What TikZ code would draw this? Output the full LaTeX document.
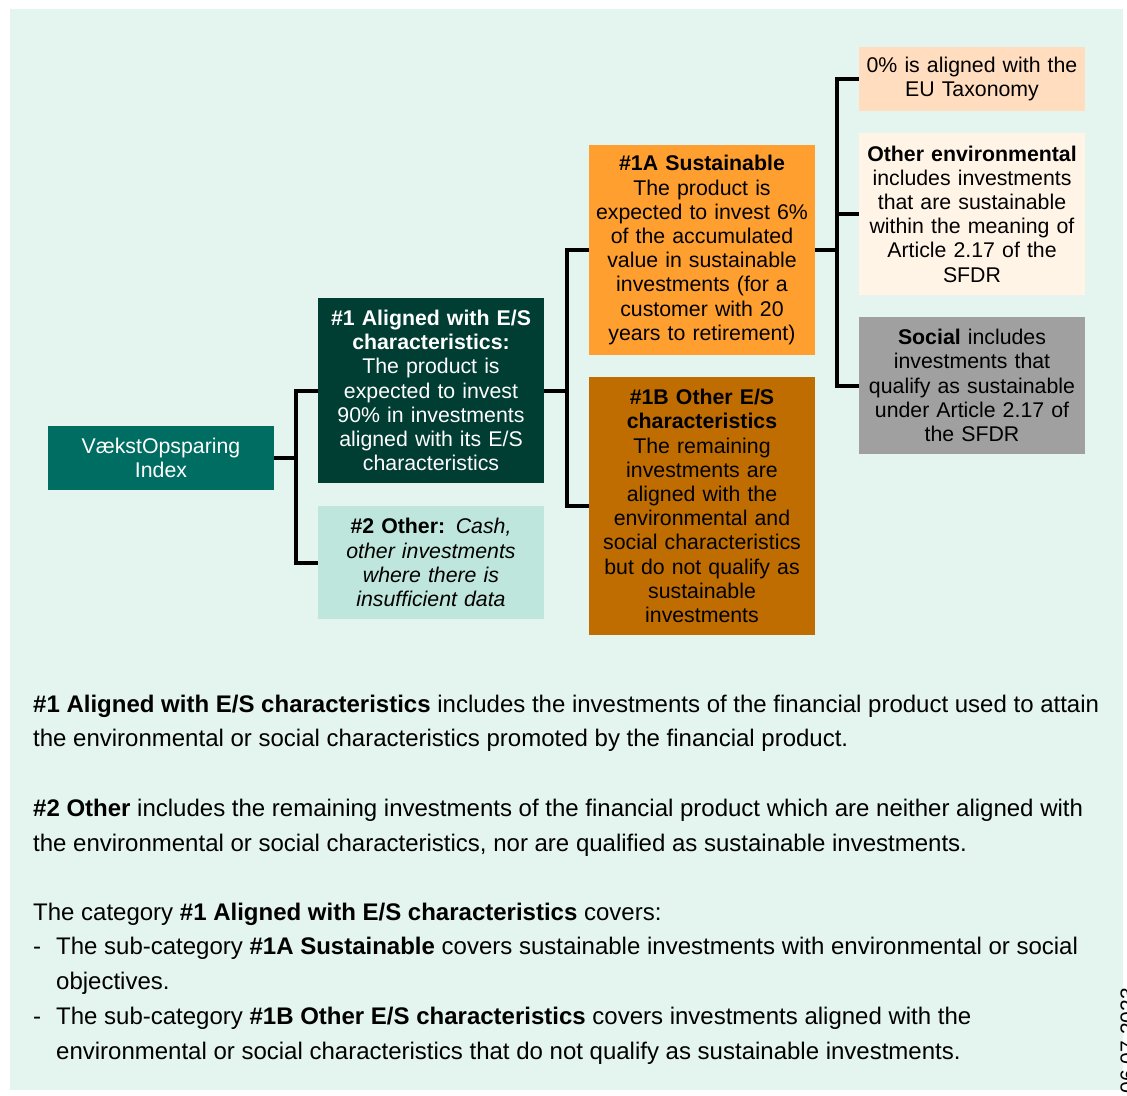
\documentclass[tikz,border=0pt]{standalone}
\usepackage{fontspec}
\setmainfont{Liberation Sans}
\definecolor{bgc}{HTML}{E4F4EE}
\definecolor{teal1}{HTML}{006D62}
\definecolor{dark1}{HTML}{003D33}
\definecolor{mint1}{HTML}{BEE6DC}
\definecolor{orng}{HTML}{FF9F30}
\definecolor{brwn}{HTML}{BF6D00}
\definecolor{peach}{HTML}{FFDDBE}
\definecolor{cream}{HTML}{FFF4E6}
\definecolor{grey1}{HTML}{A0A0A0}
\tikzset{
  box/.style={align=center, inner sep=0pt, minimum width=226pt, text width=226pt,
    font=\fontsize{21.3}{24.2}\selectfont},
  conn/.style={draw=black, line width=4pt, line join=miter},
  body/.style={anchor=base west, inner sep=0pt, font=\fontsize{24}{34.7}\selectfont}
}
\begin{document}
\begin{tikzpicture}[x=1pt,y=-1pt]
\useasboundingbox (0,0) rectangle (1127,1095);
\fill[bgc] (10,9) rectangle (1123,1090);

% diagram nodes
\node[box, fill=teal1, text=white, minimum height=64pt] (vk) at (161,458) {VækstOpsparing\\Index};
\node[box, fill=dark1, text=white, minimum height=185pt] (a1) at (431,390.5)
  {\textbf{\#1 Aligned with E/S}\\\textbf{characteristics:}\\The product is\\expected to invest\\90\% in investments\\aligned with its E/S\\characteristics};
\node[box, fill=mint1, minimum height=113pt] (o2) at (431,562.5)
  {\textbf{\#2 Other:} \textit{Cash,}\\\textit{other investments}\\\textit{where there is}\\\textit{insufficient data}};
\node[box, fill=orng, minimum height=210pt] (s1a) at (702,250)
  {\textbf{\#1A Sustainable}\\The product is\\expected to invest 6\%\\of the accumulated\\value in sustainable\\investments (for a\\customer with 20\\years to retirement)};
\node[box, fill=brwn, minimum height=258pt] (o1b) at (702,506)
  {\textbf{\#1B Other E/S}\\\textbf{characteristics}\\The remaining\\investments are\\aligned with the\\environmental and\\social characteristics\\but do not qualify as\\sustainable\\investments};
\node[box, fill=peach, minimum height=64pt] (eu) at (972,79)
  {0\% is aligned with the\\EU Taxonomy};
\node[box, fill=cream, minimum height=162pt] (oe) at (972,214)
  {\textbf{Other environmental}\\includes investments\\that are sustainable\\within the meaning of\\Article 2.17 of the\\SFDR};
\node[box, fill=grey1, minimum height=137pt] (soc) at (972,385.5)
  {\textbf{Social} includes\\investments that\\qualify as sustainable\\under Article 2.17 of\\the SFDR};

% connectors
\coordinate (j1) at ([xshift=22pt]vk.east);
\coordinate (j2) at ([xshift=23pt]a1.east);
\coordinate (j3) at ([xshift=22pt]s1a.east);
\draw[conn] (vk.east) -- (j1) |- (a1.west);
\draw[conn] (j1) |- (o2.west);
\draw[conn] (a1.east) -- (j2) |- (s1a.west);
\draw[conn] (j2) |- (o1b.west);
\draw[conn] (s1a.east) -- (j3) |- (eu.west);
\draw[conn] (j3) |- (oe.west);
\draw[conn] (j3) |- (soc.west);

% body text
\node[body] (t1) at (33,712) {\textbf{\#1 Aligned with E/S characteristics} includes the investments of the financial product used to attain};
\node[body] (t2) at (33,746.5) {the environmental or social characteristics promoted by the financial product.};
\node[body] (t3) at (33,816) {\textbf{\#2 Other} includes the remaining investments of the financial product which are neither aligned with};
\node[body] (t4) at (33,851) {the environmental or social characteristics, nor are qualified as sustainable investments.};
\node[body] (t5) at (33,920) {The category \textbf{\#1 Aligned with E/S characteristics} covers:};
\node[body] (d1) at (33,954.5) {-};
\node[body] (t6) at (56,954.5) {The sub-category \textbf{\#1A Sustainable} covers sustainable investments with environmental or social};
\node[body] (t7) at (56,989.5) {objectives.};
\node[body] (d2) at (33,1024) {-};
\node[body] (t8) at (56,1024) {The sub-category \textbf{\#1B Other E/S characteristics} covers investments aligned with the};
\node[body] (t9) at (56,1059) {environmental or social characteristics that do not qualify as sustainable investments.};

% date
\node[rotate=90, anchor=base east, inner sep=0pt, font=\fontsize{21}{24}\selectfont] (dt) at (1135,988) {06.07.2023};
\end{tikzpicture}
\end{document}
